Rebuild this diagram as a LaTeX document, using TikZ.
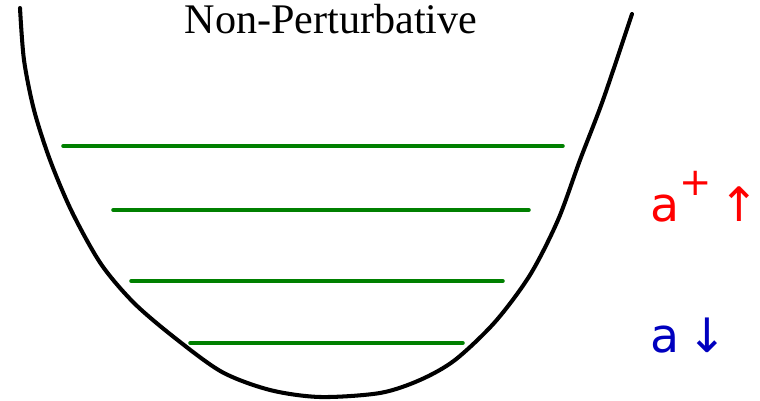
\documentclass[tikz,border=0pt]{standalone}
\usepackage{fontspec}
\setmainfont{Liberation Serif}
\newfontfamily\handfont{DejaVu Sans}
\usetikzlibrary{calc}

\tikzset{
  well/.style={black,line width=2.3pt,line cap=round,line join=round},
  level/.style={green!50!black,line width=2pt,line cap=round},
  ladder/.style={font=\handfont\fontsize{27}{27}\selectfont,inner sep=0pt}
}

\begin{document}
\begin{tikzpicture}[x=0.02cm,y=-0.02cm]
\useasboundingbox (0,0) rectangle (760,401);

% ======================= the potential well =======================
\node[font=\fontsize{24}{24}\selectfont,inner sep=0pt] (title) at (331,19) {Non-Perturbative};
\draw[well] plot[smooth,tension=0.5] coordinates {
  (20,8) (24,60) (34,110) (50,160) (72,212) (101,264) (134,303)
  (175,338) (222,372) (270,390) (320,397) (380,393) (420,380) (455,360)
  (495,322) (530,275) (558,220) (580,160) (603,100) (632,14)};

% energy levels
\foreach \y/\xa/\xb in {146/63/563, 210/113/529, 281/131/503, 343/190/463}
  {\draw[level] (\xa,\y) -- (\xb,\y);}

% ======================= ladder operators =======================
\node[ladder,red,anchor=west] (raise) at (650,197)
  {a\raisebox{0.55em}{\fontsize{22}{22}\selectfont+}\,↑};
\node[ladder,blue!75!black,anchor=west] (lower) at (650,336) {a\,↓};

\end{tikzpicture}
\end{document}
